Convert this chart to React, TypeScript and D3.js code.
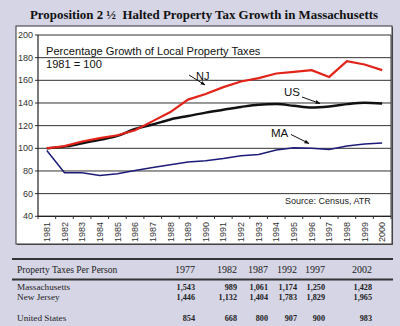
import React from "react";
import * as d3 from "d3";

const years = ["1981","1982","1983","1984","1985","1986","1987","1988","1989","1990","1991","1992","1993","1994","1995","1996","1997","1998","1999","2000"];
const njValues = [100, 102, 106, 109, 111.5, 116, 124, 132, 143, 148, 154, 159, 162, 166, 167.5, 169, 163, 177, 174, 169];
const usValues = [100, 101.5, 104.5, 107.5, 111, 117, 121, 125.5, 128.5, 131.5, 134, 136.5, 138.5, 139, 137.5, 136, 137, 139, 140.3, 139.5];
const maValues = [98, 78.5, 78.5, 76, 77.5, 80.5, 83, 85.5, 88, 89, 91, 93.5, 94.5, 98.5, 100.5, 100, 99, 102, 103.8, 104.7];
const yTicks = [40, 60, 80, 100, 120, 140, 160, 180, 200];

const tableYears = ["1977", "1982", "1987", "1992", "1997", "2002"];
const maTax = ["1,543", "989", "1,061", "1,174", "1,250", "1,428"];
const njTax = ["1,446", "1,132", "1,404", "1,783", "1,829", "1,965"];
const usTax = ["854", "668", "800", "907", "900", "983"];
const colRight = [195, 237, 268, 297, 325, 372];

const SANS = "'Liberation Sans', Arial, sans-serif";
const SERIF = "'Liberation Serif', 'Times New Roman', serif";

export default function App() {
  const x = d3.scaleBand<string>().domain(years).range([38, 391]);
  const y = d3.scaleLinear().domain([40, 200]).range([216.3, 35]);
  const cx = (d: string) => (x(d) as number) + x.bandwidth() / 2;
  const mk = (vals: number[], curve: any) =>
    d3.line<number>().x((_, i) => cx(years[i])).y((v) => y(v)).curve(curve)(vals) as string;

  return (
    <svg width={400} height={326} style={{ position: "absolute", left: 0, top: 0 }}>
      <rect x={0} y={0} width={400} height={326} fill="#d5d5e5" />
      <text x={204} y={19} textAnchor="middle" fontFamily={SERIF} fontWeight="bold" fontSize={12.9} fill="#111">
        {"Proposition 2 \u00bd\u00a0 Halted Property Tax Growth in Massachusetts"}
      </text>
      {/* chart frame */}
      <rect x={17} y={27} width={376} height={218} fill="#555" />
      <rect x={16} y={26} width={376} height={218} fill="#fff" stroke="#333" strokeWidth={1} />

      {/* gridlines */}
      {yTicks.map((t) => (
        <g key={t}>
          <line x1={38} x2={391} y1={y(t)} y2={y(t)} stroke="#333" strokeWidth={1} />
          <line x1={35} x2={38} y1={y(t)} y2={y(t)} stroke="#333" strokeWidth={1} />
          <text x={33} y={y(t)} dy="0.35em" textAnchor="end" fontFamily={SANS} fontSize={9} fill="#333">
            {t}
          </text>
        </g>
      ))}
      <line x1={38} x2={38} y1={35} y2={216.3} stroke="#222" strokeWidth={1.2} />
      <line x1={391} x2={391} y1={35} y2={216.3} stroke="#333" strokeWidth={1} />
      <line x1={38} x2={391} y1={216.3} y2={216.3} stroke="#222" strokeWidth={1.2} />
      {years.map((yr) => (
        <g key={yr}>
          <line x1={x(yr) as number} x2={x(yr) as number} y1={216.3} y2={219} stroke="#333" />
          <text
            transform={`translate(${cx(yr)},222) rotate(-90)`}
            dy="0.35em"
            textAnchor="end"
            fontFamily={SANS}
            fontSize={9}
            fill="#333"
          >
            {yr}
          </text>
        </g>
      ))}
      <line x1={391} x2={391} y1={216.3} y2={219} stroke="#333" />

      {/* series */}
      <path d={mk(maValues, d3.curveLinear)} fill="none" stroke="#1c1c78" strokeWidth={1.5} />
      <path d={mk(usValues, d3.curveMonotoneX)} fill="none" stroke="#111" strokeWidth={2.5} />
      <path d={mk(njValues, d3.curveLinear)} fill="none" stroke="#e2231a" strokeWidth={2.2} />

      {/* inner titles */}
      <text x={46} y={55} fontFamily={SANS} fontSize={11.1} fill="#111">
        Percentage Growth of Local Property Taxes
      </text>
      <text x={46} y={68} fontFamily={SANS} fontSize={11.1} fill="#111">
        1981 = 100
      </text>
      <text x={285} y={204} fontFamily={SANS} fontSize={9} fill="#222">
        Source: Census, ATR
      </text>

      {/* annotations */}
      <defs>
        <marker id="arr" viewBox="0 0 10 10" refX={9} refY={5} markerWidth={5} markerHeight={5} orient="auto">
          <path d="M0,1 L10,5 L0,9 z" fill="#111" />
        </marker>
      </defs>
      <text x={196} y={80} fontFamily={SANS} fontSize={11} fill="#111">NJ</text>
      <line x1={189} y1={75} x2={205} y2={85} stroke="#111" strokeWidth={1} markerEnd="url(#arr)" />
      <text x={284} y={96} fontFamily={SANS} fontSize={11.5} fill="#111">US</text>
      <line x1={302} y1={97} x2={320} y2={103.5} stroke="#111" strokeWidth={1} markerEnd="url(#arr)" />
      <text x={271} y={137} fontFamily={SANS} fontSize={11.5} fill="#111">MA</text>
      <line x1={291} y1={134.5} x2={309} y2={143.5} stroke="#111" strokeWidth={1} markerEnd="url(#arr)" />

      {/* table */}
      <line x1={12} x2={393} y1={259} y2={259} stroke="#333" strokeWidth={2} />
      <line x1={12} x2={393} y1={279.5} y2={279.5} stroke="#333" strokeWidth={2} />
      <text x={17} y={273} fontFamily={SERIF} fontSize={9.5} fill="#222">Property Taxes Per Person</text>
      {tableYears.map((yr, i) => (
        <text key={yr} x={colRight[i]} y={273} textAnchor="end" fontFamily={SERIF} fontSize={10} fill="#222">
          {yr}
        </text>
      ))}
      <text x={17} y={290} fontFamily={SERIF} fontSize={9.2} fill="#222">Massachusetts</text>
      <text x={17} y={300} fontFamily={SERIF} fontSize={9.2} fill="#222">New Jersey</text>
      <text x={17} y={321} fontFamily={SERIF} fontSize={9.2} fill="#222">United States</text>
      {[maTax, njTax, usTax].map((row, r) =>
        row.map((v, i) => (
          <text
            key={r + "-" + i}
            x={colRight[i]}
            y={[290, 300, 321][r]}
            textAnchor="end"
            fontFamily={SERIF}
            fontSize={8.2}
            fontWeight="bold"
            fill="#222"
          >
            {v}
          </text>
        ))
      )}
    </svg>
  );
}
